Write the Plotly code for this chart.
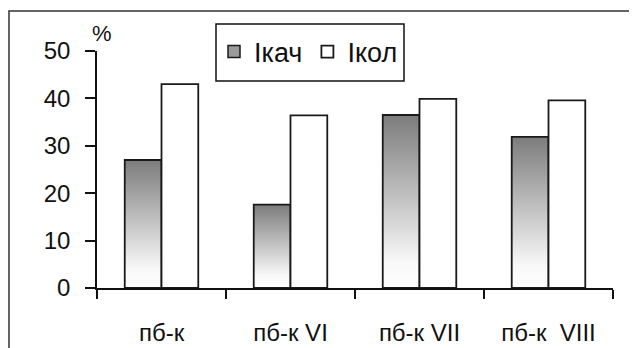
import base64
import plotly.graph_objects as go

categories = ["пб-к", "пб-к VI", "пб-к VII", "пб-к  VIII"]
ikach = [27.0, 17.6, 36.5, 31.9]
ikol = [43.0, 36.4, 39.9, 39.6]
series_names = ["Ікач", "Ікол"]
y_ticks = [0, 10, 20, 30, 40, 50]

BAR_W = 0.285
FONT = "Arial, Liberation Sans, sans-serif"
xpos = list(range(len(categories)))

svg = ('<svg xmlns="http://www.w3.org/2000/svg" width="10" height="100" viewBox="0 0 10 100" '
       'preserveAspectRatio="none"><defs><linearGradient id="g" x1="0" y1="0" x2="0" y2="1">'
       '<stop offset="0" stop-color="#7c7c7c"/><stop offset="0.85" stop-color="#f8f8f8"/>'
       '<stop offset="1" stop-color="#ffffff"/></linearGradient></defs>'
       '<rect width="10" height="100" fill="url(#g)"/></svg>')
grad_uri = "data:image/svg+xml;base64," + base64.b64encode(svg.encode()).decode()

fig = go.Figure()
# legend-only swatch for Ікач
fig.add_trace(go.Bar(x=xpos, y=[None] * len(xpos), name=series_names[0],
                     marker=dict(color="#9a9a9a", line=dict(color="#1a1a1a", width=1.5)),
                     width=BAR_W, offset=-BAR_W))
fig.add_trace(go.Bar(x=xpos, y=ikach, name=series_names[0], showlegend=False,
                     marker=dict(color="rgba(0,0,0,0)", line=dict(color="#1a1a1a", width=1.8)),
                     width=BAR_W, offset=-BAR_W))
fig.add_trace(go.Bar(x=xpos, y=ikol, name=series_names[1],
                     marker=dict(color="#ffffff", line=dict(color="#1a1a1a", width=1.8)),
                     width=BAR_W, offset=0))

images = []
for i, v in zip(xpos, ikach):
    images.append(dict(source=grad_uri, xref="x", yref="y", x=i - BAR_W, y=v,
                       sizex=BAR_W, sizey=v, xanchor="left", yanchor="top",
                       sizing="stretch", layer="below"))

# plot area in figure px: x 89..605, y 43..280 (page body adds 8px offset)
PW, PH = 516.0, 237.0
def px(xf):
    return (xf - 89) / PW
def py(yf):
    return (280 - yf) / PH

fig.update_layout(
    width=637, height=348,
    margin=dict(l=89, r=32, t=43, b=68, autoexpand=False),
    paper_bgcolor="white", plot_bgcolor="rgba(0,0,0,0)",
    barmode="overlay",
    font=dict(family=FONT, size=24, color="#111111"),
    images=images,
    showlegend=True,
    legend=dict(orientation="h", x=px(206), y=py(44), xanchor="left", yanchor="middle",
                bgcolor="rgba(0,0,0,0)", borderwidth=0,
                font=dict(size=27, family=FONT, color="#111111"),
                itemwidth=30, traceorder="normal"),
    xaxis=dict(range=[-0.5, 3.5], tickmode="array", tickvals=xpos, ticktext=categories,
               ticks="", showline=True, linecolor="#111111", linewidth=1.5,
               showgrid=False, zeroline=False, ticklabelstandoff=22,
               tickfont=dict(size=24),
               minor=dict(tickmode="linear", tick0=-0.5, dtick=1, ticks="outside",
                          ticklen=9, tickwidth=1.5, tickcolor="#111111", showgrid=False)),
    yaxis=dict(range=[0, 50], tickmode="array", tickvals=y_ticks, ticks="outside",
               ticklen=10, tickwidth=1.5, tickcolor="#111111", showline=True,
               linecolor="#111111", linewidth=1.5, showgrid=False, zeroline=False,
               ticklabelstandoff=10, tickfont=dict(size=24)),
    shapes=[
        dict(type="rect", xref="paper", yref="paper", x0=px(1), x1=px(700),
             y0=py(400), y1=py(3), line=dict(color="#333333", width=1.5),
             fillcolor="rgba(0,0,0,0)", layer="below"),
        dict(type="rect", xref="paper", yref="paper", x0=px(208), x1=px(396),
             y0=py(73), y1=py(16), line=dict(color="#111111", width=1.5),
             fillcolor="white", layer="below"),
    ],
    annotations=[dict(text="%", xref="paper", yref="paper", x=px(94), y=py(26),
                      xanchor="center", yanchor="middle", showarrow=False,
                      font=dict(size=22, family=FONT, color="#111111"))],
)

fig.write_html("out.html")
